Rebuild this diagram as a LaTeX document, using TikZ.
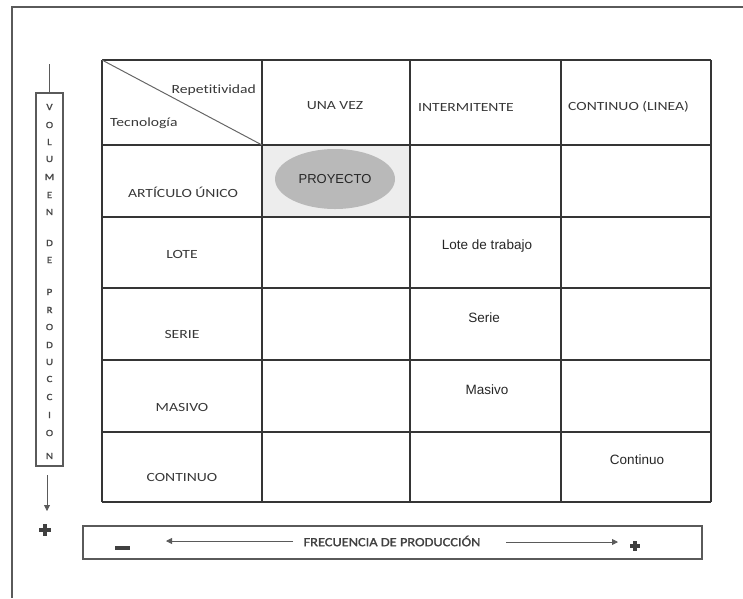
\documentclass[tikz,border=0pt]{standalone}
\usepackage{fontspec}
\usetikzlibrary{arrows.meta,shapes.geometric}
\newfontfamily\calib[FakeStretch=1.25,Ligatures=NoCommon]{Carlito}
\newfontfamily\calibb[FakeStretch=1.15,FakeBold=1.5,Ligatures=NoCommon]{Carlito}
\newfontfamily\ariel{Liberation Sans}
\definecolor{ink}{HTML}{383838}
\definecolor{rule}{HTML}{353535}
\definecolor{frame}{HTML}{5A5A5A}
\begin{document}
\begin{tikzpicture}[x=1pt,y=-1pt,
  grid/.style={draw=rule,line width=1.3pt},
  head/.style={font=\calib\fontsize{12.5}{13}\selectfont,text=ink,inner sep=0pt},
  cell/.style={font=\ariel\fontsize{13.5}{14}\selectfont,text=black!85,inner sep=0pt},
  letter/.style={font=\calibb\fontsize{9.5}{10}\selectfont,text=black!72,inner sep=0pt},
  axisbox/.style={draw=frame,line width=1.1pt,inner sep=0pt},
  axisline/.style={draw=frame,line width=0.8pt},
  axisarrow/.style={axisline,-{Triangle[length=6pt,width=6pt]}},
]
\useasboundingbox (0,0) rectangle (743,598);

% page frame
\draw[draw=frame,line width=1.2pt] (743,7) -- (12,7) -- (12,598);

% shaded cell with the ellipse
\fill[gray!14] (262,145) rectangle (410,217);
\node[ellipse,fill=gray!55,minimum width=120pt,minimum height=60pt,inner sep=0pt] (proy) at (335,179) {};
\node[cell,font=\ariel\fontsize{13}{14}\selectfont] (proyt) at (335,179) {PROYECTO};

% table grid
\foreach \x in {102,262,410,561,711} \draw[grid] (\x,60) -- (\x,502);
\foreach \y in {60,145,217,288,360,432,502} \draw[grid] (102,\y) -- (711,\y);
\draw[draw=gray!80!black,line width=1pt] (102,60) -- (262,145);

% header
\node[head,anchor=east] (rep) at (256,90) {Repetitividad};
\node[head,anchor=west] (tec) at (110,123) {Tecnología};
\node[head] (h1) at (335,106) {UNA VEZ};
\node[head,anchor=west] (h2) at (418,107) {INTERMITENTE};
\node[head,anchor=west] (h3) at (568,107) {CONTINUO (LINEA)};

% row labels
\node[head] (r1) at (183,192) {ARTÍCULO ÚNICO};
\node[head] (r2) at (182,254) {LOTE};
\node[head] (r3) at (182,334) {SERIE};
\node[head] (r4) at (182,407) {MASIVO};
\node[head] (r5) at (182,477) {CONTINUO};

% cell contents
\node[cell] (c1) at (487,246) {Lote de trabajo};
\node[cell] (c2) at (484,318) {Serie};
\node[cell] (c3) at (487,390) {Masivo};
\node[cell] (c4) at (637,460) {Continuo};

% vertical axis: volume
\node[axisbox,minimum width=27pt,minimum height=373pt] (vol) at (49.5,279.5) {};
\foreach \l/\y [count=\i] in {V/107,O/125,L/142,U/159,M/177,E/195,N/212,D/243,E/260,P/292,R/310,O/327,D/345,U/362,C/379,C/397,I/415,O/433,N/456}
  \node[letter] (v\i) at (49.5,\y) {\l};
\coordinate (voltop) at (49.5,64);
\draw[axisline] (voltop) -- (vol.north);
\coordinate (vs) at (47,475);
\coordinate (ve) at (47,511);
\draw[axisarrow] (vs) -- (ve);
\draw[draw=black!75,line width=3.6pt] (39,530) -- (51,530) (45,524) -- (45,536);

% horizontal axis: frequency
\node[axisbox,minimum width=619pt,minimum height=33pt] (freq) at (392.5,542.5) {};
\node[font=\calibb\fontsize{12.5}{13}\selectfont,text=black!75,inner sep=0pt] (ft) at (392,541) {FRECUENCIA DE PRODUCCIÓN};
\coordinate (la) at (293,541);
\coordinate (lb) at (166,541);
\coordinate (ra) at (506,542);
\coordinate (rb) at (618,542);
\draw[axisarrow] (la) -- (lb);
\draw[axisarrow] (ra) -- (rb);
\draw[draw=black!75,line width=3.5pt] (115,548) -- (130,548);
\draw[draw=black!75,line width=3.2pt] (630,546) -- (640,546) (635,541) -- (635,551);
\end{tikzpicture}
\end{document}
